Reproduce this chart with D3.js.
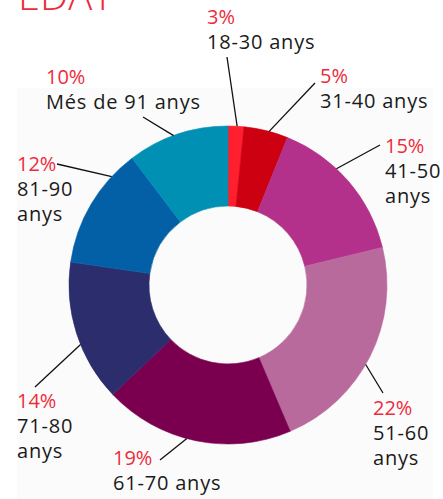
<!DOCTYPE html>
<html><head><meta charset="utf-8">
<script src="https://cdn.jsdelivr.net/npm/d3@7"></script>
<style>html,body{margin:0;padding:0;background:#fff;}svg{display:block;}</style>
</head><body>
<svg id="chart" width="443" height="499"></svg>
<script>
// ---- data ----
const title = "EDAT";
const categories = ["18-30 anys","31-40 anys","41-50 anys","51-60 anys","61-70 anys","71-80 anys","81-90 anys","Més de 91 anys"];
const shares = [1.6, 4.5, 15.1, 22.4, 19.3, 14.4, 12.4, 10.3];   // drawn slice sizes
const pctLabels = ["3%","5%","15%","22%","19%","14%","12%","10%"];
const colors = ["#ff1f2e","#cc0010","#b3318b","#b86a9c","#7a004f","#2c2d6d","#0460a6","#0090b4"];

// ---- layout (label placement) ----
const cx = 228, cy = 285, rOuter = 159, rInner = 79;
const labelLayout = [
  {x:207, y:24,  lines:["18-30 anys"],        lx:227, ly:57,  ang:3.3},
  {x:320, y:83,  lines:["31-40 anys"],        lx:315, ly:83,  ang:15},
  {x:385, y:153, lines:["41-50","anys"],      lx:380, ly:145, ang:43},
  {x:373, y:415, lines:["51-60","anys"],      lx:383, ly:393, ang:120},
  {x:113, y:465, lines:["61-70 anys"],        lx:160, ly:460, ang:195},
  {x:17,  y:408, lines:["71-80","anys"],      lx:35,  ly:387, ang:248},
  {x:17,  y:171, lines:["81-90","anys"],      lx:57,  ly:164, ang:313},
  {x:46,  y:84,  lines:["Més de 91 anys"],    lx:143, ly:117, ang:340}
];

const svg = d3.select("#chart");
svg.append("rect").attr("x",0).attr("y",0).attr("width",443).attr("height",499).attr("fill","#ffffff");
svg.append("rect").attr("x",17).attr("y",88).attr("width",416).attr("height",411).attr("fill","#fbfbfb");

svg.append("text").attr("x",18).attr("y",10)
  .attr("font-family","'Open Sans', sans-serif").attr("font-size",40).attr("font-weight",300)
  .attr("fill","#ee2b3b").text(title);

const pie = d3.pie().sort(null).value(d => d);
const arcs = pie(shares);
const arc = d3.arc().innerRadius(rInner).outerRadius(rOuter);

const g = svg.append("g").attr("transform",`translate(${cx},${cy})`);
g.selectAll("path").data(arcs).join("path")
  .attr("d", arc).attr("fill", (d,i) => colors[i])
  .attr("stroke", (d,i) => colors[i]).attr("stroke-width", 0.6);

// leader lines
const rad = Math.PI/180;
svg.selectAll("line.leader").data(labelLayout).join("line")
  .attr("class","leader")
  .attr("x1", d => d.lx).attr("y1", d => d.ly)
  .attr("x2", d => cx + rOuter*Math.sin(d.ang*rad))
  .attr("y2", d => cy - rOuter*Math.cos(d.ang*rad))
  .attr("stroke","#111").attr("stroke-width",1.3);

// labels
const font = "'Open Sans', sans-serif";
labelLayout.forEach((L,i) => {
  svg.append("text").attr("x",L.x).attr("y",L.y)
    .attr("font-family",font).attr("font-size",20).attr("fill","#ee2b3b")
    .text(pctLabels[i]);
  L.lines.forEach((t,j) => {
    svg.append("text").attr("x",L.x).attr("y",L.y + 25*(j+1))
      .attr("font-family",font).attr("font-size",20).attr("fill","#1a1a1a")
      .attr("letter-spacing", 0.8)
      .text(t);
  });
});
</script>
</body></html>
